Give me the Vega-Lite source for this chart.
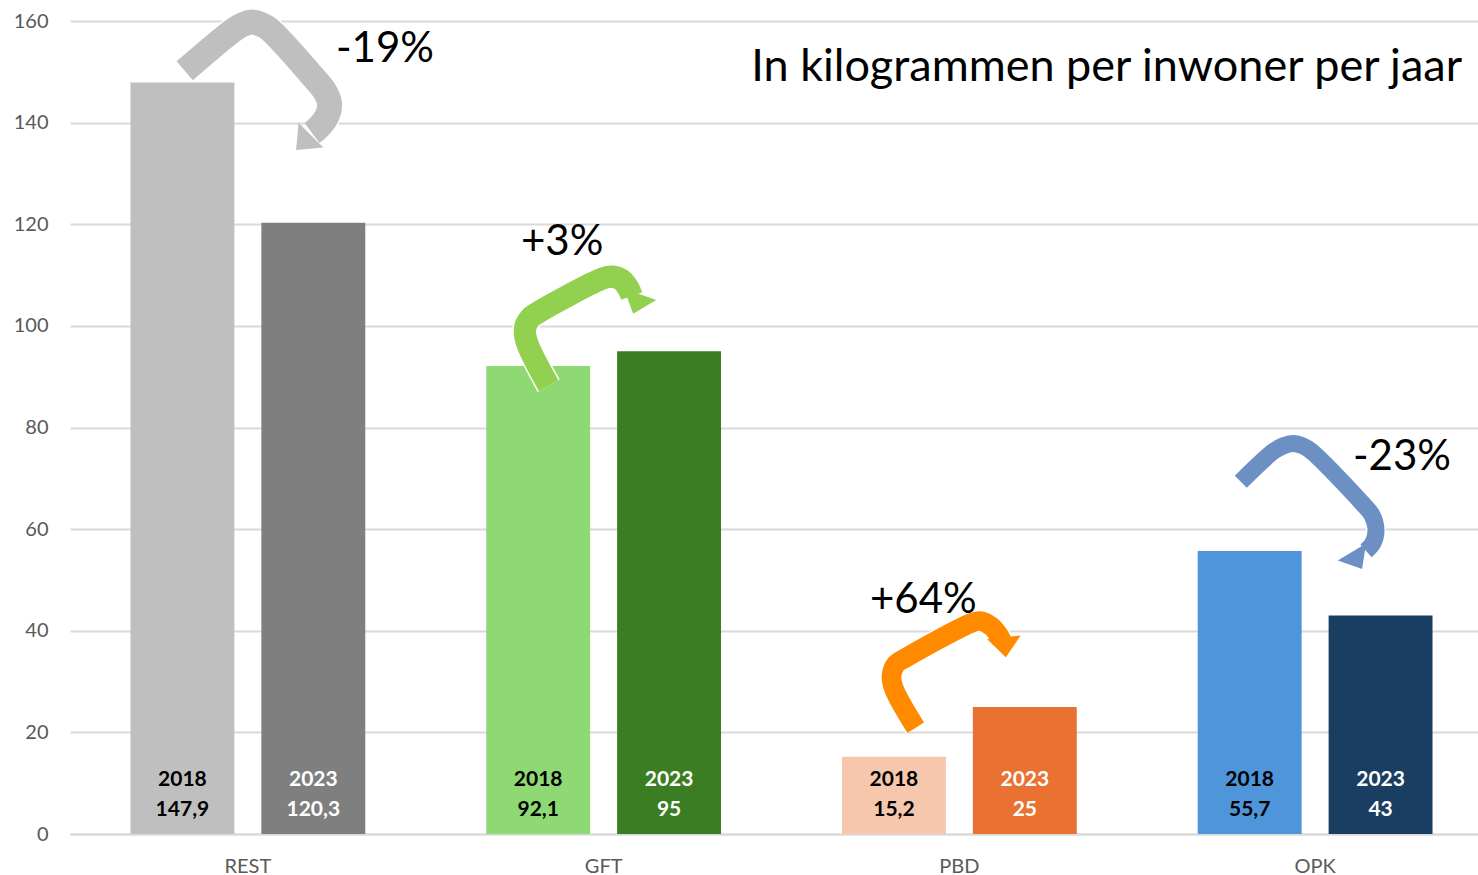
{
  "$schema": "https://vega.github.io/schema/vega-lite/v6.json",
  "width": 1423,
  "height": 813,
  "autosize": "none",
  "padding": {"left": 70, "top": 21, "right": 0, "bottom": 41},
  "background": "white",
  "config": {
    "view": {"stroke": null},
    "font": "Lato",
    "locale": {"number": {"decimal": ",", "thousands": ".", "grouping": [3], "currency": ["€", ""]}}
  },
  "datasets": {
    "bars": [
      {"cat": "REST", "year": "2018", "bar": "REST 2018", "value": 147.9},
      {"cat": "REST", "year": "2023", "bar": "REST 2023", "value": 120.3},
      {"cat": "GFT", "year": "2018", "bar": "GFT 2018", "value": 92.1},
      {"cat": "GFT", "year": "2023", "bar": "GFT 2023", "value": 95},
      {"cat": "PBD", "year": "2018", "bar": "PBD 2018", "value": 15.2},
      {"cat": "PBD", "year": "2023", "bar": "PBD 2023", "value": 25},
      {"cat": "OPK", "year": "2018", "bar": "OPK 2018", "value": 55.7},
      {"cat": "OPK", "year": "2023", "bar": "OPK 2023", "value": 43}
    ],
    "arrows": [
      {"arrow": "REST", "i": 0, "pos": 0.3224, "kg": 150.20},
      {"arrow": "REST", "i": 1, "pos": 0.4638, "kg": 158.43},
      {"arrow": "REST", "i": 2, "pos": 0.4863, "kg": 159.31},
      {"arrow": "REST", "i": 3, "pos": 0.5116, "kg": 159.80},
      {"arrow": "REST", "i": 4, "pos": 0.5369, "kg": 159.31},
      {"arrow": "REST", "i": 5, "pos": 0.5594, "kg": 158.43},
      {"arrow": "REST", "i": 6, "pos": 0.6887, "kg": 148.58},
      {"arrow": "REST", "i": 7, "pos": 0.7140, "kg": 146.42},
      {"arrow": "REST", "i": 8, "pos": 0.7294, "kg": 143.86},
      {"arrow": "REST", "i": 9, "pos": 0.7224, "kg": 141.30},
      {"arrow": "REST", "i": 10, "pos": 0.6999, "kg": 139.14},
      {"arrow": "REST", "i": 11, "pos": 0.6803, "kg": 137.96},
      {"arrow": "GFT", "i": 0, "pos": 1.3456, "kg": 88.23},
      {"arrow": "GFT", "i": 1, "pos": 1.2838, "kg": 96.89},
      {"arrow": "GFT", "i": 2, "pos": 1.2790, "kg": 99.52},
      {"arrow": "GFT", "i": 3, "pos": 1.2930, "kg": 101.49},
      {"arrow": "GFT", "i": 4, "pos": 1.3119, "kg": 102.48},
      {"arrow": "GFT", "i": 5, "pos": 1.4991, "kg": 109.36},
      {"arrow": "GFT", "i": 6, "pos": 1.5227, "kg": 109.68},
      {"arrow": "GFT", "i": 7, "pos": 1.5508, "kg": 109.03},
      {"arrow": "GFT", "i": 8, "pos": 1.5694, "kg": 107.40},
      {"arrow": "GFT", "i": 9, "pos": 1.5789, "kg": 105.88},
      {"arrow": "PBD", "i": 0, "pos": 2.3772, "kg": 20.92},
      {"arrow": "PBD", "i": 1, "pos": 2.3162, "kg": 28.54},
      {"arrow": "PBD", "i": 2, "pos": 2.3092, "kg": 31.09},
      {"arrow": "PBD", "i": 3, "pos": 2.3219, "kg": 33.46},
      {"arrow": "PBD", "i": 4, "pos": 2.3472, "kg": 34.58},
      {"arrow": "PBD", "i": 5, "pos": 2.5318, "kg": 41.47},
      {"arrow": "PBD", "i": 6, "pos": 2.5580, "kg": 41.92},
      {"arrow": "PBD", "i": 7, "pos": 2.5889, "kg": 40.93},
      {"arrow": "PBD", "i": 8, "pos": 2.6086, "kg": 39.36},
      {"arrow": "PBD", "i": 9, "pos": 2.6198, "kg": 37.98},
      {"arrow": "OPK", "i": 0, "pos": 3.2911, "kg": 69.33},
      {"arrow": "OPK", "i": 1, "pos": 3.3844, "kg": 75.38},
      {"arrow": "OPK", "i": 2, "pos": 3.4097, "kg": 76.36},
      {"arrow": "OPK", "i": 3, "pos": 3.4378, "kg": 76.85},
      {"arrow": "OPK", "i": 4, "pos": 3.4659, "kg": 76.36},
      {"arrow": "OPK", "i": 5, "pos": 3.4884, "kg": 75.38},
      {"arrow": "OPK", "i": 6, "pos": 3.6317, "kg": 65.14},
      {"arrow": "OPK", "i": 7, "pos": 3.6598, "kg": 62.78},
      {"arrow": "OPK", "i": 8, "pos": 3.6711, "kg": 59.83},
      {"arrow": "OPK", "i": 9, "pos": 3.6627, "kg": 57.27},
      {"arrow": "OPK", "i": 10, "pos": 3.6430, "kg": 55.70}
    ],
    "heads": [
      {"arrow": "REST", "pos": 0.6564, "kg": 136.09},
      {"arrow": "GFT", "pos": 1.5927, "kg": 104.31},
      {"arrow": "PBD", "pos": 2.6277, "kg": 36.74},
      {"arrow": "OPK", "pos": 3.6177, "kg": 53.83}
    ],
    "notes": [
      {"note": "-19%", "pos": 0.7477, "kg": 154.49},
      {"note": "+3%", "pos": 1.2677, "kg": 116.51},
      {"note": "+64%", "pos": 2.2488, "kg": 46.05},
      {"note": "-23%", "pos": 3.6065, "kg": 74.19}
    ],
    "titles": [
      {"note": "In kilogrammen per inwoner per jaar", "pos": 3.9129, "kg": 150.95}
    ]
  },
  "resolve": {"scale": {"x": "independent", "color": "independent", "strokeWidth": "independent"}},
  "layer": [
    {
      "data": {"name": "bars"},
      "encoding": {
        "x": {
          "field": "cat", "type": "nominal", "sort": ["REST", "GFT", "PBD", "OPK"],
          "scale": {"paddingInner": 0.34, "paddingOuter": 0.17},
          "axis": {"title": null, "labelAngle": 0, "labelFontSize": 20, "labelColor": "#595959", "labelFont": "Lato",
                   "domainColor": "#D9D9D9", "domainWidth": 2, "ticks": false, "labelPadding": 22}
        },
        "xOffset": {"field": "year", "type": "nominal", "scale": {"paddingInner": 0.206, "paddingOuter": 0}}
      },
      "layer": [
        {
          "mark": {"type": "bar"},
          "encoding": {
            "y": {
              "field": "value", "type": "quantitative",
              "scale": {"domain": [0, 160], "nice": false},
              "axis": {"title": null, "values": [0, 20, 40, 60, 80, 100, 120, 140, 160], "domain": false, "ticks": false,
                       "labelPadding": 22, "labelFontSize": 20, "labelColor": "#595959", "labelFont": "Lato",
                       "gridColor": "#D9D9D9", "gridWidth": 2}
            },
            "color": {
              "field": "bar", "type": "nominal", "legend": null,
              "scale": {
                "domain": ["REST 2018", "REST 2023", "GFT 2018", "GFT 2023", "PBD 2018", "PBD 2023", "OPK 2018", "OPK 2023"],
                "range": ["#BFBFBF", "#7F7F7F", "#8FD974", "#3B7D23", "#F6C6AD", "#E97132", "#4E95D9", "#1A3D62"]
              }
            }
          }
        },
        {
          "mark": {"type": "text", "fontSize": 21, "fontWeight": "bold", "baseline": "middle", "dy": -54, "font": "Lato"},
          "encoding": {
            "y": {"datum": 0},
            "text": {"field": "year"},
            "color": {"condition": {"test": "datum.year === '2023'", "value": "white"}, "value": "black"}
          }
        },
        {
          "mark": {"type": "text", "fontSize": 21, "fontWeight": "bold", "baseline": "middle", "dy": -24, "font": "Lato"},
          "encoding": {
            "y": {"datum": 0},
            "text": {"field": "value", "format": ".1~f"},
            "color": {"condition": {"test": "datum.year === '2023'", "value": "white"}, "value": "black"}
          }
        }
      ]
    },
    {
      "data": {"name": "arrows"},
      "mark": {"type": "line", "strokeCap": "butt", "strokeJoin": "round", "interpolate": "catmull-rom", "color": "white"},
      "encoding": {
        "x": {"field": "pos", "type": "quantitative", "scale": {"domain": [0, 4], "nice": false, "zero": false}, "axis": null},
        "y": {"field": "kg", "type": "quantitative"},
        "order": {"field": "i", "type": "quantitative"},
        "detail": {"field": "arrow", "type": "nominal"},
        "strokeWidth": {"field": "arrow", "type": "nominal", "legend": null,
                        "scale": {"domain": ["REST", "GFT", "PBD", "OPK"], "range": [28, 20, 20, 22]}}
      }
    },
    {
      "data": {"name": "arrows"},
      "mark": {"type": "line", "strokeCap": "butt", "strokeJoin": "round", "interpolate": "catmull-rom"},
      "encoding": {
        "x": {"field": "pos", "type": "quantitative", "scale": {"domain": [0, 4], "nice": false, "zero": false}, "axis": null},
        "y": {"field": "kg", "type": "quantitative"},
        "order": {"field": "i", "type": "quantitative"},
        "color": {"field": "arrow", "type": "nominal", "legend": null,
                  "scale": {"domain": ["REST", "GFT", "PBD", "OPK"], "range": ["#BFBFBF", "#92D050", "#FF8A00", "#6C8FC4"]}},
        "strokeWidth": {"field": "arrow", "type": "nominal", "legend": null,
                        "scale": {"domain": ["REST", "GFT", "PBD", "OPK"], "range": [25, 17, 17, 19]}}
      }
    },
    {
      "data": {"name": "heads"},
      "mark": {"type": "point", "filled": true, "opacity": 1, "shape": "M-1,0.6L0,-0.6L1,0.6Z"},
      "encoding": {
        "x": {"field": "pos", "type": "quantitative", "scale": {"domain": [0, 4], "nice": false, "zero": false}, "axis": null},
        "y": {"field": "kg", "type": "quantitative"},
        "color": {"field": "arrow", "type": "nominal", "legend": null,
                  "scale": {"domain": ["REST", "GFT", "PBD", "OPK"], "range": ["#BFBFBF", "#92D050", "#FF8A00", "#6C8FC4"]}},
        "size": {"field": "arrow", "type": "nominal", "legend": null,
                 "scale": {"domain": ["REST", "GFT", "PBD", "OPK"], "range": [1225, 1089, 986, 1156]}},
        "angle": {"field": "arrow", "type": "nominal", "legend": null,
                  "scale": {"domain": ["REST", "GFT", "PBD", "OPK"], "range": [225, 149, 153, 225]}}
      }
    },
    {
      "data": {"name": "notes"},
      "mark": {"type": "text", "align": "left", "baseline": "middle", "fontSize": 42, "font": "Lato", "color": "black"},
      "encoding": {
        "x": {"field": "pos", "type": "quantitative", "scale": {"domain": [0, 4], "nice": false, "zero": false}, "axis": null},
        "y": {"field": "kg", "type": "quantitative"},
        "text": {"field": "note"}
      }
    },
    {
      "data": {"name": "titles"},
      "mark": {"type": "text", "align": "right", "baseline": "middle", "fontSize": 45, "font": "Lato", "color": "black"},
      "encoding": {
        "x": {"field": "pos", "type": "quantitative", "scale": {"domain": [0, 4], "nice": false, "zero": false}, "axis": null},
        "y": {"field": "kg", "type": "quantitative"},
        "text": {"field": "note"}
      }
    }
  ]
}
